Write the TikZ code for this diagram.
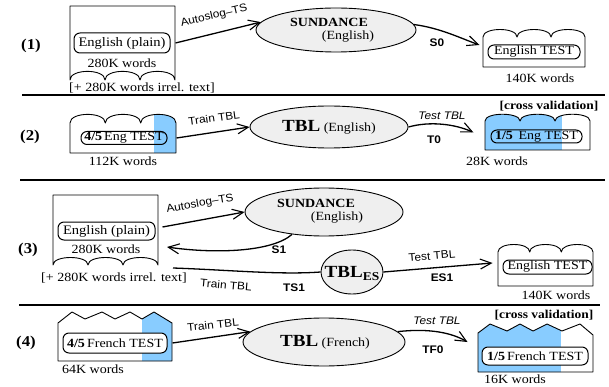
\documentclass[tikz,border=0pt]{standalone}
\usepackage{fontspec}
\setmainfont{Liberation Serif}[FakeStretch=1.12]
\setsansfont{Liberation Sans}[FakeStretch=1.08]
\usetikzlibrary{arrows.meta,shapes.geometric}
\definecolor{docblue}{HTML}{88CCFF}
\definecolor{ellgray}{HTML}{EFEFEF}
\begin{document}
\begin{tikzpicture}[x=1pt,y=-1pt,line join=round,
  doc/.style={draw=black,line width=0.9pt,fill=white},
  fbox/.style={draw,rounded corners=6pt,line width=1pt,inner sep=0pt,font=\fontsize{12.5}{13}\selectfont},
  ell/.style={draw,ellipse,fill=ellgray,line width=0.9pt,inner sep=0pt},
  arr/.style={line width=1.3pt,-{Straight Barb[length=11pt,width=10pt,line width=1.1pt]}},
  conn/.style={line width=1.3pt},
  lab/.style={font=\sffamily\fontsize{11}{11}\selectfont,inner sep=1pt},
  ilab/.style={font=\sffamily\itshape\fontsize{11}{11}\selectfont,inner sep=1pt},
  blab/.style={font=\sffamily\bfseries\fontsize{11}{11}\selectfont,inner sep=1pt},
  txt/.style={font=\fontsize{12.5}{13}\selectfont,inner sep=0pt},
  etxt/.style={font=\fontsize{12.5}{13}\selectfont,inner sep=0pt},
  btxt/.style={font=\bfseries\fontsize{12.5}{13}\selectfont,inner sep=0pt},
  rowlab/.style={font=\bfseries\fontsize{15}{15}\selectfont,inner sep=0pt},
  cv/.style={font=\bfseries\fontsize{12}{12}\selectfont,inner sep=0pt},
  sep/.style={line width=1.3pt}]
\useasboundingbox (0,0) rectangle (609,387);

% ---------------- Row 1 ----------------
\node[rowlab] (r1) at (31,46) {(1)};
\path[doc] (70,6) -- (175,6) -- (175,80)
  .. controls (175,68.5) and (140,68.5) .. (140,80)
  .. controls (140,68.5) and (105,68.5) .. (105,80)
  .. controls (105,68.5) and (70,68.5) .. (70,80) -- cycle;
\node[fbox,minimum width=96pt,minimum height=20pt,font=\fontsize{13}{13}\selectfont] (p1) at (122,43) {English (plain)};
\node[txt] (w1) at (122,63) {280K words};
\node[txt] (irr1) at (142,88) {[+ 280K words irrel. text]};

\node[ell,minimum width=160pt,minimum height=44pt] (s1) at (336,30) {};
\node[btxt] (s1a) at (329,22) {SUNDANCE};
\node[etxt] (s1b) at (348,37) {(English)};

\path[doc] (483,67) -- (483,37)
  .. controls (483,27) and (517,27) .. (517,37)
  .. controls (517,27) and (551,27) .. (551,37)
  .. controls (551,27) and (585,27) .. (585,37) -- (585,67) -- cycle;
\node[fbox,minimum width=92pt,minimum height=14pt] (t1) at (534,52) {English TEST};
\node[txt] (w1b) at (540,78) {140K words};

\draw[arr] ([xshift=5pt]p1.east) -- (s1.174);
\node[lab,rotate=13] (l1a) at (214,16) {Autoslog–TS};
\draw[arr] (s1.4) .. controls (440,28) and (460,38) .. ([xshift=-8pt,yshift=7pt]t1.west);
\node[blab] (l1b) at (437,43) {S0};

\draw[sep] (22,95) -- (605,95);

% ---------------- Row 2 ----------------
\node[rowlab] (r2) at (30,137) {(2)};
\path[doc,path picture={\fill[docblue] (154,100) rectangle (180,160);}]
  (70,153) -- (70,123)
  .. controls (70,111.5) and (105.3,111.5) .. (105.3,123)
  .. controls (105.3,111.5) and (140.7,111.5) .. (140.7,123)
  .. controls (140.7,111.5) and (176,111.5) .. (176,123) -- (176,153) -- cycle;
\node[fbox,minimum width=86pt,minimum height=13pt] (p2) at (124,138) {\textbf{4/5}\,Eng TEST};
\node[txt] (w2) at (123,161) {112K words};

\node[ell,minimum width=158pt,minimum height=42pt] (e2) at (329,127) {};
\node[etxt] (e2t) at (329,127) {{\bfseries\fontsize{17}{17}\selectfont TBL} (English)};

\path[doc,path picture={\fill[docblue] (480,100) rectangle (562,160);}]
  (485,150) -- (485,121)
  .. controls (485,112) and (520,112) .. (520,121)
  .. controls (520,112) and (555,112) .. (555,121)
  .. controls (555,112) and (590,112) .. (590,121) -- (590,150) -- cycle;
\node[fbox,minimum width=91pt,minimum height=13pt] (t2) at (536.5,136.5) {\textbf{1/5}\, Eng TEST};
\node[cv] (cv2) at (549,106) {[cross validation]};
\node[txt] (w2b) at (497,161) {28K words};

\draw[arr] ([xshift=9pt]p2.east) -- (e2.west);
\node[lab,rotate=8] (l2a) at (214,118) {Train TBL};
\draw[arr] (e2.east) .. controls (430,121) and (455,124) .. ([xshift=-17pt,yshift=4pt]t2.west);
\node[ilab] (l2b) at (442,116) {Test TBL};
\node[blab] (l2c) at (434,140) {T0};

\draw[sep] (20,180) -- (605,180);

% ---------------- Row 3 ----------------
\node[rowlab] (r3) at (28,250) {(3)};
\path[doc] (53,195) -- (158,195) -- (158,265)
  .. controls (158,255) and (123,255) .. (123,265)
  .. controls (123,255) and (88,255) .. (88,265)
  .. controls (88,255) and (53,255) .. (53,265) -- cycle;
\node[fbox,minimum width=97pt,minimum height=18pt,font=\fontsize{13}{13}\selectfont] (p3) at (106.5,231) {English (plain)};
\node[txt] (w3) at (106,249) {280K words};
\node[txt] (irr3) at (114,278) {[+ 280K words irrel. text]};
\coordinate (d3r) at (167,247);
\coordinate (d3b) at (173,268);

\node[ell,minimum width=158pt,minimum height=48pt] (s3) at (324,212) {};
\node[btxt] (s3a) at (316,203) {SUNDANCE};
\node[etxt] (s3b) at (337,218) {(English)};

\node[ell,minimum width=62pt,minimum height=44pt] (tes) at (352,272) {};
\node[inner sep=0pt] (test) at (352,273) {\bfseries\fontsize{17}{17}\selectfont TBL\raisebox{-3pt}{\fontsize{12}{12}\selectfont ES}};

\path[doc] (498,286) -- (498,252)
  .. controls (498,242) and (529.7,242) .. (529.7,252)
  .. controls (529.7,242) and (561.3,242) .. (561.3,252)
  .. controls (561.3,242) and (593,242) .. (593,252) -- (593,286) -- cycle;
\node[fbox,minimum width=89pt,minimum height=14pt] (t3) at (547.5,267) {English TEST};
\node[txt] (w3b) at (556,295) {140K words};

\draw[arr] ([shift={(7,-4)}]p3.east) -- (s3.west);
\node[lab,rotate=10] (l3a) at (200,204) {Autoslog–TS};
\draw[arr] (s3.215) .. controls (272,252) and (215,254) .. (d3r);
\node[blab] (l3b) at (279,250) {S1};
\draw[conn] (d3b) .. controls (230,270) and (280,275) .. (tes.west);
\node[lab,rotate=-5] (l3c) at (226,285) {Train TBL};
\node[blab] (l3d) at (294,288) {TS1};
\draw[arr] (tes.east) -- ([xshift=-10pt,yshift=4pt]t3.west);
\node[lab,rotate=5] (l3e) at (432,256) {Test TBL};
\node[blab] (l3f) at (442,278) {ES1};

\draw[sep] (19,305) -- (600,305);

% ---------------- Row 4 ----------------
\node[rowlab] (r4) at (26,343) {(4)};
\path[doc,path picture={\fill[docblue] (142,305) rectangle (176,365);}]
  (58,361) -- (58,323) -- (72,312) -- (85,319) -- (102,312) -- (115,319)
  -- (130,312) -- (142,319) -- (154,312) -- (172,323) -- (172,361) -- cycle;
\node[fbox,fill=white,minimum width=104pt,minimum height=20pt] (p4) at (115,343) {\textbf{4/5}\,French TEST};
\node[txt] (w4) at (93,369) {64K words};

\node[ell,minimum width=162pt,minimum height=48pt] (e4) at (324,342) {};
\node[etxt] (e4t) at (325,342) {{\bfseries\fontsize{17}{17}\selectfont TBL} (French)};

\path[doc,path picture={\fill[docblue] (470,310) rectangle (561,380);}]
  (478,372) -- (478,333) -- (490,324) -- (507,331) -- (520,324) -- (533,331)
  -- (547,324) -- (562,331) -- (580,324) -- (593,335) -- (593,372) -- cycle;
\node[fbox,fill=white,minimum width=106pt,minimum height=18pt] (t4) at (535,356) {\textbf{1/5}\,French TEST};
\node[cv] (cv4) at (544,315) {[cross validation]};
\node[txt] (w4b) at (515,379) {16K words};

\draw[arr] ([xshift=5pt]p4.east) -- (e4.172);
\node[lab,rotate=6] (l4a) at (213,325) {Train TBL};
\draw[arr] (e4.8) .. controls (430,328) and (452,333) .. ([xshift=-14pt,yshift=14pt]t4.west);
\node[ilab] (l4b) at (437,321) {Test TBL};
\node[blab] (l4c) at (433,350) {TF0};
\end{tikzpicture}
\end{document}
